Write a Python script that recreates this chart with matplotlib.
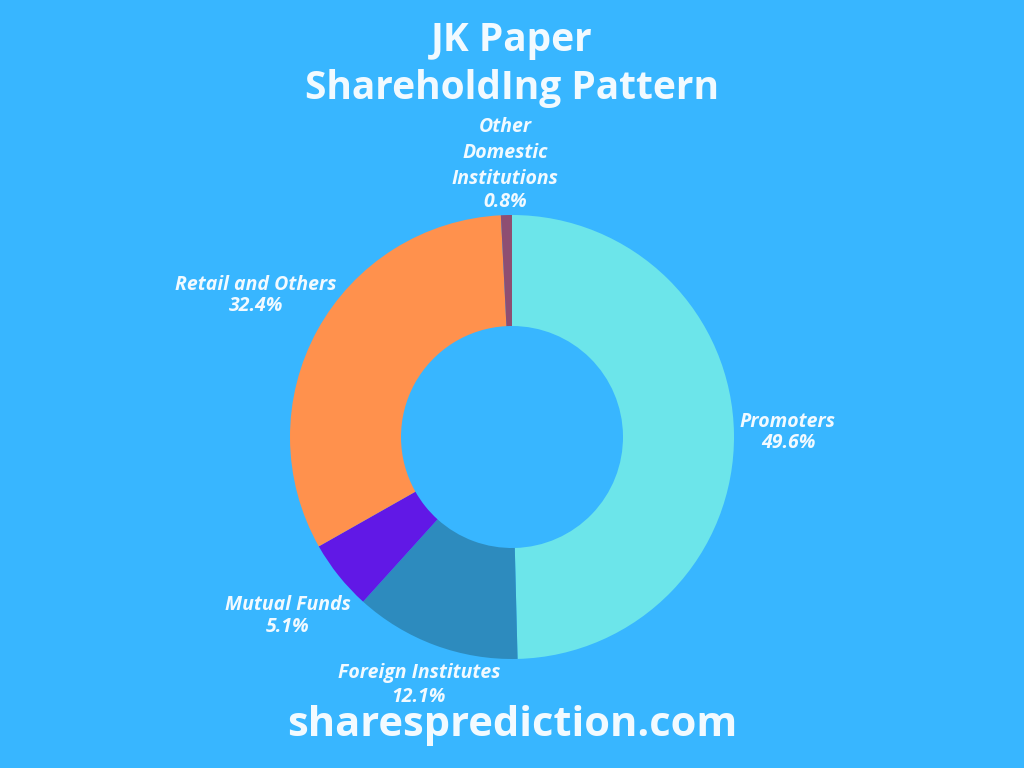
import matplotlib.pyplot as plt

# shareholding data (percent)
categories = ["Promoters", "Foreign Institutes", "Mutual Funds",
              "Retail and Others", "Other\nDomestic\nInstitutions"]
shares = [49.6, 12.1, 5.1, 32.4, 0.8]
colors = ["#6CE5EA", "#2D8BBE", "#6118E6", "#FF914D", "#8E4E72"]

BG = "#38B6FF"
TXT = "#F2FAFF"

# label positions in figure pixels: (x, name y, value y), y from top
label_pos = [(788, 422, 443), (419, 673, 697), (288, 605, 627),
             (256, 285, 306), (505, 153, 202)]

W, H = 1024, 768
fig = plt.figure(figsize=(W / 100, H / 100), dpi=100, facecolor=BG)

cx, cy, r = 512, 437, 222
ax = fig.add_axes([(cx - r) / W, (H - cy - r) / H, 2 * r / W, 2 * r / H])
ax.set_facecolor(BG)
ax.pie(shares, colors=colors, startangle=90, counterclock=False, radius=1,
       wedgeprops=dict(width=0.5, linewidth=0))
ax.set_xlim(-1, 1)
ax.set_ylim(-1, 1)
ax.set_aspect("equal")
ax.axis("off")

lab = dict(ha="center", va="center", color=TXT, fontsize=14,
           fontweight="bold", style="italic", family="Open Sans",
           linespacing=1.4)
for name, val, (px, py1, py2) in zip(categories, shares, label_pos):
    fig.text(px / W, 1 - py1 / H, name, **lab)
    fig.text(px / W, 1 - py2 / H, f"{val}%", **lab)

fig.text(0.5, 1 - 40 / H, "JK Paper", ha="center", va="center", color=TXT,
         fontsize=28, fontweight="bold", family="Open Sans")
fig.text(0.5, 1 - 88 / H, "ShareholdIng Pattern", ha="center", va="center",
         color=TXT, fontsize=28, fontweight="bold", family="Open Sans")
fig.text(0.5, 1 - 726 / H, "sharesprediction.com", ha="center", va="center",
         color=TXT, fontsize=30, fontweight="bold", family="Open Sans")

fig.savefig("out.png", dpi=100, facecolor=BG)
